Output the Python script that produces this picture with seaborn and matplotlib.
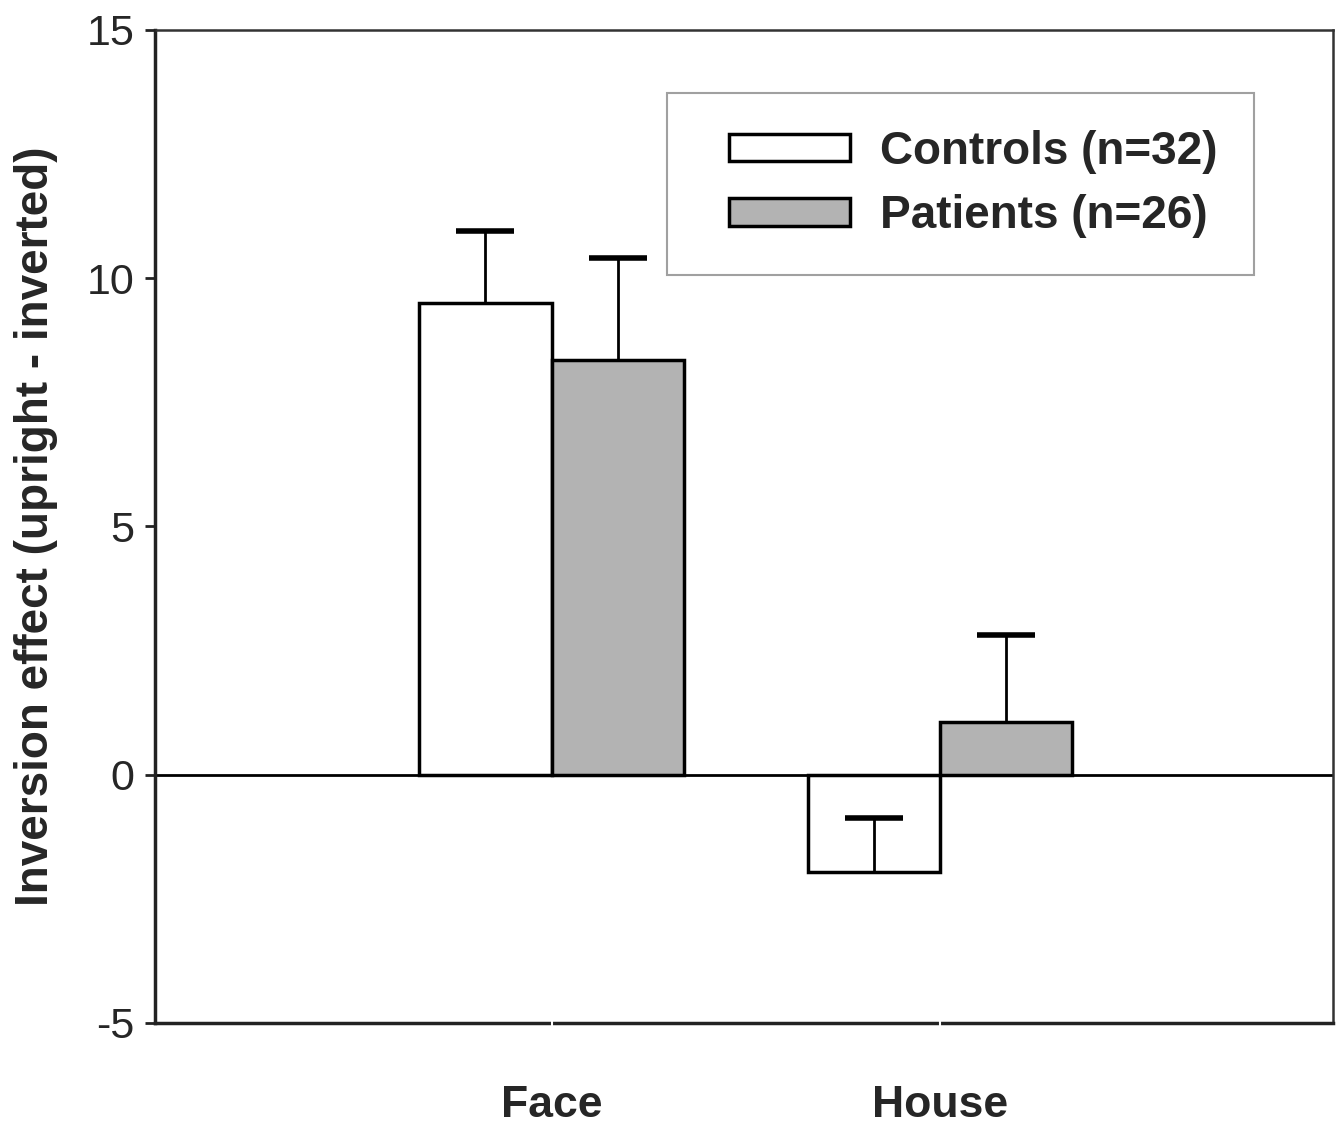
import matplotlib
matplotlib.use("Agg")
import matplotlib.pyplot as plt
from matplotlib.legend_handler import HandlerPatch
from matplotlib.patches import Rectangle
import seaborn as sns
import numpy as np
import pandas as pd

categories = ["Face", "House"]
groups = ["Controls (n=32)", "Patients (n=26)"]
controls_mean = [9.5, -1.95]
patients_mean = [8.35, 1.07]
controls_err = [1.45, 1.07]
patients_err = [2.05, 1.75]
yticks = [-5, 0, 5, 10, 15]

sns.set_style("ticks")
plt.rcParams["font.family"] = ["Liberation Sans", "DejaVu Sans"]

data = pd.DataFrame({
    "Stimulus": categories * 2,
    "Group": [groups[0]] * 2 + [groups[1]] * 2,
    "effect": controls_mean + patients_mean,
})
errors = {groups[0]: controls_err, groups[1]: patients_err}

fig = plt.figure(figsize=(13.44, 11.27), dpi=100)
ax = fig.add_axes([0.1153, 0.0923, 0.8765, 0.8811])

sns.barplot(data=data, x="Stimulus", y="effect", hue="Group", order=categories,
            hue_order=groups, palette=["white", "#b3b3b3"], width=0.68,
            edgecolor="black", linewidth=2.5, errorbar=None, saturation=1, ax=ax)

# one-sided error bars, always pointing up, no cap at the bar end
for container, group in zip(ax.containers, groups):
    xs = [bar.get_x() + bar.get_width() / 2 for bar in container]
    means = data[data["Group"] == group]["effect"].tolist()
    err = errors[group]
    eb = ax.errorbar(xs, means, yerr=[np.zeros(len(err)), err], fmt="none",
                     ecolor="black", elinewidth=2, capsize=21, capthick=4, zorder=3)
    eb[1][0].set_visible(False)

ax.axhline(0, color="black", lw=2, zorder=1)

ax.set_xlim(-1.02, 2.01)
ax.set_ylim(-5, 15)
ax.set_yticks(yticks)
ax.set_yticklabels([str(t) for t in yticks])
ax.set_axisbelow(False)
ax.tick_params(axis="y", length=7, width=2, pad=8, labelsize=31, color="#222222")
ax.tick_params(axis="x", length=8, width=1.5, direction="inout", color="white",
               pad=41, labelsize=32)
for lab in ax.get_xticklabels():
    lab.set_fontweight("bold")
ax.set_xlabel("")
ax.set_ylabel("Inversion effect (upright - inverted)", fontsize=33, fontweight="bold",
              labelpad=20)

for side in ["left", "bottom"]:
    ax.spines[side].set_linewidth(2.5)
    ax.spines[side].set_color("#222222")
for side in ["top", "right"]:
    ax.spines[side].set_linewidth(1.8)
    ax.spines[side].set_color("#333333")


def offset_patch(legend, orig_handle, xdescent, ydescent, width, height, fontsize):
    shift = width * 0.17
    return Rectangle((-xdescent + shift, -ydescent), width - shift, height)


handles, labels = ax.get_legend_handles_labels()
ax.legend(handles, labels, loc="upper left", bbox_to_anchor=(0.4346, 0.9366),
          borderaxespad=0, frameon=True, fancybox=False, edgecolor="#888888",
          prop={"size": 33, "weight": "bold"}, handlelength=3.2, handleheight=0.55,
          handletextpad=0.65, borderpad=0.8, labelspacing=0.45,
          handler_map={Rectangle: HandlerPatch(patch_func=offset_patch)})
ax.get_legend().get_frame().set_linewidth(1.5)

fig.savefig("out.png", dpi=100)
